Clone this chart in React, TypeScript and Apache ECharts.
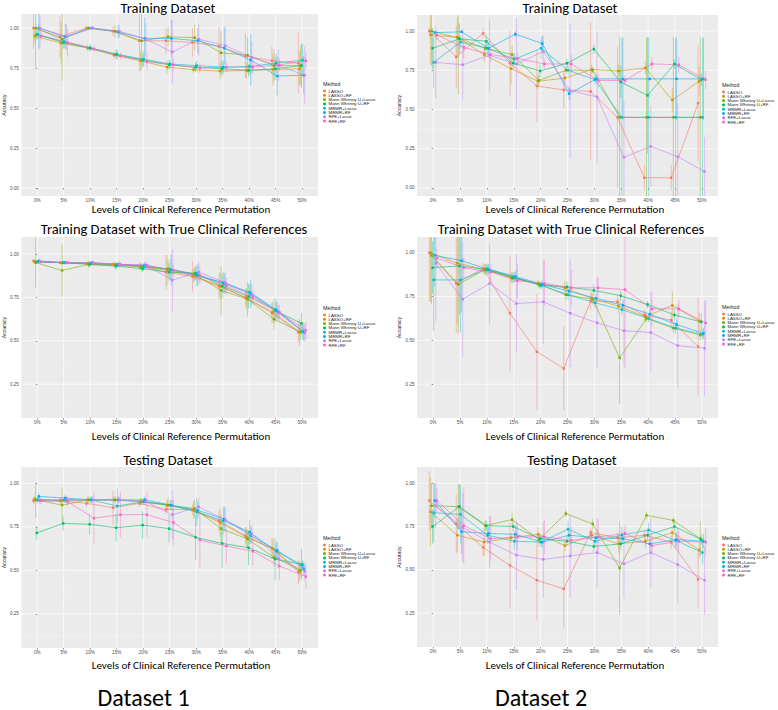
import React, { useEffect, useRef } from "react";
import * as echarts from "echarts";

const categories = ["0%", "5%", "10%", "15%", "20%", "25%", "30%", "35%", "40%", "45%", "50%"];
const methods = ["LASSO", "LASSO+RF", "Mann Whitney U+Lasso", "Mann Whitney U+RF", "MRMR+Lasso", "MRMR+RF", "RFE+Lasso", "RFE+RF"];
const colors = ["#F8766D", "#CD9600", "#7CAE00", "#00BE67", "#00BFC4", "#00A9FF", "#C77CFF", "#FF61CC"];
const yTicks = [0, 0.25, 0.5, 0.75, 1];
const panelTitles = [
  "Training Dataset",
  "Training Dataset",
  "Training Dataset with True Clinical References",
  "Training Dataset with True Clinical References",
  "Testing Dataset",
  "Testing Dataset",
];
const xTitle = "Levels of Clinical Reference Permutation";
const datasetLabels = ["Dataset 1", "Dataset 2"];

// Dataset 1 - Training
const train1Mean = [
  [1.0, 0.945, 1.0, 0.98, 0.92, 0.92, 0.91, 0.885, 0.825, 0.795, 0.78],
  [0.95, 0.905, 0.875, 0.83, 0.795, 0.755, 0.74, 0.73, 0.735, 0.74, 0.745],
  [1.0, 0.93, 1.0, 0.98, 0.92, 0.945, 0.94, 0.845, 0.83, 0.765, 0.765],
  [0.96, 0.91, 0.875, 0.835, 0.8, 0.77, 0.755, 0.745, 0.735, 0.745, 0.765],
  [0.96, 0.915, 0.875, 0.835, 0.805, 0.775, 0.765, 0.755, 0.76, 0.78, 0.8],
  [1.0, 0.945, 1.0, 0.975, 0.935, 0.935, 0.92, 0.875, 0.8, 0.7, 0.705],
  [1.0, 0.945, 1.0, 0.98, 0.93, 0.85, 0.93, 0.89, 0.815, 0.765, 0.705],
  [0.95, 0.91, 0.87, 0.825, 0.79, 0.77, 0.75, 0.755, 0.755, 0.77, 0.795],
];
const train1Sd = [
  [0.13, 0.13, 0.01, 0.03, 0.19, 0.08, 0.09, 0.12, 0.14, 0.09, 0.19],
  [0.04, 0.13, 0.02, 0.02, 0.06, 0.04, 0.02, 0.05, 0.05, 0.1, 0.11],
  [0.25, 0.26, 0.01, 0.04, 0.18, 0.06, 0.08, 0.14, 0.11, 0.1, 0.12],
  [0.03, 0.04, 0.02, 0.03, 0.04, 0.03, 0.03, 0.05, 0.04, 0.07, 0.14],
  [0.03, 0.04, 0.02, 0.03, 0.05, 0.03, 0.03, 0.04, 0.05, 0.06, 0.1],
  [0.13, 0.08, 0.01, 0.04, 0.13, 0.12, 0.08, 0.13, 0.16, 0.12, 0.12],
  [0.13, 0.08, 0.01, 0.04, 0.1, 0.2, 0.1, 0.12, 0.1, 0.1, 0.18],
  [0.03, 0.09, 0.02, 0.02, 0.05, 0.04, 0.03, 0.03, 0.04, 0.04, 0.05],
];

// Dataset 2 - Training
const train2Mean = [
  [1.0, 0.835, 0.985, 0.795, 0.65, 0.625, 0.615, 0.45, 0.065, 0.065, 0.54],
  [0.975, 0.96, 0.85, 0.76, 0.68, 0.7, 0.755, 0.745, 0.765, 0.56, 0.68],
  [1.0, 0.955, 0.89, 0.85, 0.685, 0.75, 0.75, 0.45, 0.45, 0.45, 0.45],
  [0.89, 0.95, 0.935, 0.795, 0.745, 0.795, 0.885, 0.675, 0.59, 0.79, 0.69],
  [0.8, 0.93, 0.89, 0.82, 0.89, 0.75, 0.69, 0.45, 0.45, 0.45, 0.45],
  [0.99, 0.995, 0.89, 0.98, 0.92, 0.6, 0.695, 0.695, 0.695, 0.695, 0.695],
  [0.8, 0.785, 0.845, 0.79, 0.87, 0.62, 0.58, 0.195, 0.265, 0.2, 0.105],
  [0.975, 0.895, 0.85, 0.825, 0.79, 0.79, 0.685, 0.685, 0.79, 0.785, 0.69],
];
const train2Sd = [
  [0.02, 0.2, 0.03, 0.21, 0.23, 0.12, 0.44, 0.45, 0.08, 0.08, 0.37],
  [0.18, 0.13, 0.05, 0.1, 0.05, 0.03, 0.03, 0.04, 0.04, 0.08, 0.09],
  [0.22, 0.36, 0.05, 0.06, 0.03, 0.02, 0.02, 0.51, 0.51, 0.51, 0.51],
  [0.13, 0.1, 0.04, 0.04, 0.04, 0.03, 0.03, 0.1, 0.37, 0.03, 0.04],
  [0.16, 0.04, 0.04, 0.04, 0.07, 0.03, 0.03, 0.51, 0.51, 0.51, 0.51],
  [0.01, 0.01, 0.04, 0.02, 0.05, 0.04, 0.02, 0.26, 0.01, 0.26, 0.26],
  [0.23, 0.23, 0.23, 0.29, 0.1, 0.43, 0.42, 0.36, 0.26, 0.34, 0.22],
  [0.03, 0.07, 0.05, 0.04, 0.03, 0.06, 0.04, 0.03, 0.04, 0.05, 0.06],
];

// Dataset 1 - Training with true clinical references
const trueRef1Mean = [
  [0.96, 0.95, 0.945, 0.94, 0.93, 0.895, 0.87, 0.815, 0.75, 0.66, 0.55],
  [0.955, 0.95, 0.945, 0.94, 0.93, 0.905, 0.875, 0.815, 0.745, 0.665, 0.55],
  [0.95, 0.905, 0.94, 0.935, 0.925, 0.915, 0.885, 0.79, 0.74, 0.625, 0.55],
  [0.955, 0.95, 0.94, 0.93, 0.915, 0.895, 0.89, 0.815, 0.755, 0.675, 0.6],
  [0.955, 0.95, 0.945, 0.94, 0.93, 0.91, 0.875, 0.835, 0.78, 0.68, 0.555],
  [0.96, 0.95, 0.95, 0.94, 0.935, 0.91, 0.88, 0.83, 0.77, 0.67, 0.55],
  [0.955, 0.95, 0.95, 0.94, 0.935, 0.85, 0.895, 0.835, 0.765, 0.66, 0.545],
  [0.955, 0.95, 0.945, 0.94, 0.935, 0.905, 0.875, 0.815, 0.75, 0.665, 0.56],
];
const trueRef1Sd = [
  [0.01, 0.01, 0.01, 0.01, 0.02, 0.1, 0.09, 0.07, 0.05, 0.06, 0.06],
  [0.01, 0.01, 0.01, 0.01, 0.02, 0.09, 0.04, 0.08, 0.06, 0.06, 0.08],
  [0.15, 0.15, 0.02, 0.02, 0.02, 0.05, 0.04, 0.14, 0.1, 0.06, 0.05],
  [0.01, 0.01, 0.02, 0.02, 0.02, 0.05, 0.04, 0.07, 0.07, 0.07, 0.06],
  [0.01, 0.01, 0.01, 0.01, 0.02, 0.06, 0.06, 0.06, 0.05, 0.05, 0.05],
  [0.01, 0.01, 0.01, 0.01, 0.02, 0.09, 0.06, 0.06, 0.08, 0.05, 0.05],
  [0.01, 0.01, 0.01, 0.02, 0.02, 0.18, 0.06, 0.06, 0.06, 0.05, 0.05],
  [0.01, 0.01, 0.01, 0.01, 0.02, 0.04, 0.05, 0.05, 0.04, 0.04, 0.05],
];

// Dataset 2 - Training with true clinical references
const trueRef2Mean = [
  [1.0, 0.825, 0.91, 0.655, 0.435, 0.34, 0.725, 0.72, 0.645, 0.615, 0.465],
  [1.0, 0.94, 0.905, 0.86, 0.825, 0.8, 0.74, 0.695, 0.635, 0.7, 0.61],
  [0.985, 0.82, 0.905, 0.855, 0.82, 0.76, 0.735, 0.4, 0.625, 0.57, 0.53],
  [0.915, 0.925, 0.905, 0.86, 0.815, 0.805, 0.785, 0.755, 0.705, 0.645, 0.605],
  [0.845, 0.845, 0.91, 0.86, 0.815, 0.76, 0.715, 0.675, 0.625, 0.57, 0.535],
  [0.985, 0.955, 0.905, 0.865, 0.82, 0.78, 0.74, 0.7, 0.65, 0.59, 0.54],
  [0.94, 0.735, 0.825, 0.71, 0.72, 0.655, 0.6, 0.555, 0.545, 0.47, 0.455],
  [0.97, 0.915, 0.89, 0.84, 0.825, 0.8, 0.8, 0.79, 0.68, 0.68, 0.6],
];
const trueRef2Sd = [
  [0.28, 0.28, 0.03, 0.33, 0.33, 0.24, 0.05, 0.04, 0.03, 0.05, 0.28],
  [0.28, 0.35, 0.03, 0.03, 0.02, 0.04, 0.03, 0.04, 0.03, 0.08, 0.05],
  [0.28, 0.28, 0.03, 0.03, 0.02, 0.03, 0.03, 0.26, 0.02, 0.03, 0.03],
  [0.15, 0.28, 0.03, 0.03, 0.02, 0.03, 0.03, 0.03, 0.02, 0.03, 0.05],
  [0.29, 0.3, 0.03, 0.03, 0.02, 0.03, 0.03, 0.03, 0.02, 0.03, 0.03],
  [0.18, 0.29, 0.03, 0.03, 0.02, 0.03, 0.03, 0.03, 0.03, 0.03, 0.03],
  [0.33, 0.33, 0.23, 0.28, 0.24, 0.31, 0.26, 0.2, 0.23, 0.24, 0.27],
  [0.05, 0.06, 0.05, 0.1, 0.13, 0.1, 0.06, 0.45, 0.1, 0.05, 0.13],
];

// Dataset 1 - Testing
const test1Mean = [
  [0.9, 0.9, 0.885, 0.86, 0.885, 0.85, 0.85, 0.785, 0.7, 0.625, 0.49],
  [0.91, 0.9, 0.905, 0.905, 0.895, 0.875, 0.845, 0.775, 0.69, 0.625, 0.495],
  [0.905, 0.875, 0.905, 0.905, 0.895, 0.875, 0.855, 0.74, 0.68, 0.575, 0.5],
  [0.715, 0.77, 0.765, 0.745, 0.76, 0.74, 0.69, 0.655, 0.63, 0.565, 0.535],
  [0.905, 0.905, 0.905, 0.87, 0.895, 0.875, 0.835, 0.785, 0.72, 0.61, 0.53],
  [0.925, 0.915, 0.905, 0.905, 0.905, 0.875, 0.845, 0.795, 0.7, 0.615, 0.51],
  [0.9, 0.905, 0.905, 0.905, 0.895, 0.82, 0.865, 0.79, 0.71, 0.57, 0.495],
  [0.9, 0.895, 0.8, 0.82, 0.82, 0.775, 0.675, 0.64, 0.61, 0.525, 0.465],
];
const test1Sd = [
  [0.02, 0.02, 0.02, 0.1, 0.02, 0.03, 0.03, 0.06, 0.05, 0.06, 0.07],
  [0.02, 0.02, 0.02, 0.02, 0.02, 0.03, 0.05, 0.08, 0.06, 0.06, 0.06],
  [0.1, 0.1, 0.02, 0.02, 0.02, 0.04, 0.05, 0.08, 0.05, 0.05, 0.04],
  [0.04, 0.04, 0.06, 0.08, 0.08, 0.08, 0.13, 0.14, 0.1, 0.12, 0.09],
  [0.02, 0.02, 0.02, 0.1, 0.02, 0.03, 0.08, 0.08, 0.07, 0.05, 0.03],
  [0.02, 0.02, 0.02, 0.02, 0.02, 0.03, 0.05, 0.07, 0.05, 0.05, 0.04],
  [0.02, 0.02, 0.02, 0.02, 0.02, 0.14, 0.05, 0.07, 0.05, 0.06, 0.05],
  [0.02, 0.03, 0.15, 0.13, 0.13, 0.13, 0.16, 0.1, 0.08, 0.08, 0.07],
];

// Dataset 2 - Testing
const test2Mean = [
  [0.9, 0.765, 0.63, 0.525, 0.44, 0.39, 0.715, 0.685, 0.7, 0.66, 0.445],
  [0.835, 0.7, 0.66, 0.685, 0.705, 0.64, 0.7, 0.65, 0.665, 0.715, 0.615],
  [0.87, 0.865, 0.755, 0.79, 0.675, 0.825, 0.765, 0.51, 0.815, 0.785, 0.68],
  [0.75, 0.865, 0.755, 0.75, 0.68, 0.665, 0.635, 0.65, 0.7, 0.75, 0.675],
  [0.83, 0.82, 0.7, 0.665, 0.66, 0.735, 0.665, 0.7, 0.73, 0.67, 0.6],
  [0.9, 0.72, 0.71, 0.705, 0.66, 0.7, 0.685, 0.68, 0.65, 0.675, 0.665],
  [0.87, 0.745, 0.66, 0.585, 0.56, 0.58, 0.6, 0.535, 0.6, 0.53, 0.44],
  [0.9, 0.755, 0.68, 0.69, 0.69, 0.67, 0.69, 0.71, 0.64, 0.665, 0.66],
];
const test2Sd = [
  [0.17, 0.17, 0.05, 0.25, 0.23, 0.23, 0.03, 0.03, 0.03, 0.04, 0.17],
  [0.2, 0.1, 0.08, 0.03, 0.04, 0.03, 0.03, 0.05, 0.04, 0.03, 0.05],
  [0.13, 0.13, 0.03, 0.04, 0.04, 0.02, 0.03, 0.27, 0.02, 0.02, 0.1],
  [0.1, 0.13, 0.03, 0.03, 0.03, 0.03, 0.03, 0.03, 0.03, 0.03, 0.03],
  [0.17, 0.17, 0.05, 0.05, 0.03, 0.05, 0.03, 0.05, 0.04, 0.05, 0.07],
  [0.1, 0.13, 0.04, 0.05, 0.03, 0.03, 0.03, 0.03, 0.04, 0.04, 0.04],
  [0.13, 0.2, 0.15, 0.2, 0.22, 0.24, 0.2, 0.2, 0.2, 0.22, 0.2],
  [0.07, 0.22, 0.13, 0.08, 0.1, 0.08, 0.1, 0.05, 0.05, 0.06, 0.08],
];

const panelMeans = [train1Mean, train2Mean, trueRef1Mean, trueRef2Mean, test1Mean, test2Mean];
const panelSds = [train1Sd, train2Sd, trueRef1Sd, trueRef2Sd, test1Sd, test2Sd];

// layout (pixels) for each panel
const layouts = [
  { left: 17, top: 14, width: 301, height: 182, yMin: -0.05, yMax: 1.0875, cx: 168, titleY: 0.5, titleVA: "top", xTitleY: 209.5, legX: 323, legY: 84 },
  { left: 417, top: 15, width: 301, height: 181, yMin: -0.051, yMax: 1.102, cx: 570, titleY: 0.5, titleVA: "top", xTitleY: 209.5, legX: 722, legY: 85 },
  { left: 17, top: 237, width: 301, height: 181, yMin: 0.055, yMax: 1.098, cx: 174, titleY: 228.5, titleVA: "middle", xTitleY: 436.5, legX: 323, legY: 308 },
  { left: 417, top: 237, width: 301, height: 181, yMin: 0.057, yMax: 1.09, cx: 571, titleY: 228.5, titleVA: "middle", xTitleY: 436.5, legX: 722, legY: 307 },
  { left: 17, top: 467, width: 301, height: 181, yMin: 0.054, yMax: 1.094, cx: 168, titleY: 460, titleVA: "middle", xTitleY: 665, legX: 323, legY: 538 },
  { left: 417, top: 467, width: 301, height: 180, yMin: 0.054, yMax: 1.094, cx: 572, titleY: 460, titleVA: "middle", xTitleY: 665, legX: 722, legY: 538 },
];

const TITLE_FONT = "Carlito, Lato, 'Open Sans', sans-serif";
const SMALL_FONT = "'Liberation Sans', Arial, Helvetica, sans-serif";
const DODGE = 0.04;

export default function App() {
  const ref = useRef<HTMLDivElement>(null);

  useEffect(() => {
    document.body.style.margin = "0";
    if (!ref.current) return;
    const chart = echarts.init(ref.current, null, { renderer: "svg" });

    const grid: any[] = [];
    const xAxis: any[] = [];
    const yAxis: any[] = [];
    const series: any[] = [];
    const legend: any[] = [];
    const graphic: any[] = [];

    layouts.forEach((L, p) => {
      grid.push({
        left: L.left,
        top: L.top,
        width: L.width,
        height: L.height,
        show: true,
        backgroundColor: "#EBEBEB",
        borderWidth: 0,
      });
      const xVals = categories.map((_, i) => i);
      xAxis.push({
        type: "value",
        gridIndex: p,
        min: -0.6,
        max: 10.6,
        axisLine: { show: false },
        axisTick: { show: true, customValues: xVals, length: 1.5, lineStyle: { color: "#333", width: 0.5 } },
        axisLabel: {
          customValues: xVals,
          formatter: (v: number) => categories[Math.round(v)] ?? "",
          fontSize: 4.6,
          color: "#4D4D4D",
          fontFamily: SMALL_FONT,
          margin: 2,
        },
        splitLine: { show: false },
      });
      const yVals = yTicks.filter((v) => v >= L.yMin && v <= L.yMax);
      yAxis.push({
        type: "value",
        gridIndex: p,
        min: L.yMin,
        max: L.yMax,
        name: "Accuracy",
        nameLocation: "middle",
        nameGap: p % 2 === 0 ? 11 : 13,
        nameRotate: 90,
        nameTextStyle: { fontSize: 5.2, color: "#222", fontFamily: SMALL_FONT },
        axisLine: { show: false },
        axisTick: { show: true, customValues: yVals, length: 1.5, lineStyle: { color: "#333", width: 0.5 } },
        axisLabel: {
          customValues: yVals,
          formatter: (v: number) => v.toFixed(2),
          fontSize: 4.6,
          color: "#4D4D4D",
          fontFamily: SMALL_FONT,
          margin: 2.5,
        },
        splitLine: { show: false },
      });

      // panel gridlines (ggplot style)
      series.push({
        type: "custom",
        name: "grid" + p,
        xAxisIndex: p,
        yAxisIndex: p,
        silent: true,
        z: 0,
        data: [[0, L.yMin]],
        renderItem: (params: any, api: any) => {
          const cs = params.coordSys;
          const children: any[] = [];
          const minors = [0.125, 0.375, 0.625, 0.875];
          minors.forEach((v) => {
            if (v > L.yMin && v < L.yMax) {
              const pt = api.coord([0, v]);
              children.push({ type: "line", shape: { x1: cs.x, y1: pt[1], x2: cs.x + cs.width, y2: pt[1] }, style: { stroke: "#F6F6F6", lineWidth: 0.4 } });
            }
          });
          yTicks.forEach((v) => {
            if (v > L.yMin && v < L.yMax) {
              const pt = api.coord([0, v]);
              children.push({ type: "line", shape: { x1: cs.x, y1: pt[1], x2: cs.x + cs.width, y2: pt[1] }, style: { stroke: "#FFFFFF", lineWidth: 0.7 } });
            }
          });
          categories.forEach((_, i) => {
            const pt = api.coord([i, L.yMin]);
            children.push({ type: "line", shape: { x1: pt[0], y1: cs.y, x2: pt[0], y2: cs.y + cs.height }, style: { stroke: "#FFFFFF", lineWidth: 0.7 } });
          });
          return { type: "group", children };
        },
      });

      const means = panelMeans[p];
      const sds = panelSds[p];
      methods.forEach((m, k) => {
        const off = (k - 3.5) * DODGE;
        series.push({
          type: "line",
          name: m,
          xAxisIndex: p,
          yAxisIndex: p,
          z: 3,
          symbol: "rect",
          symbolSize: 2.4,
          color: colors[k],
          itemStyle: { color: colors[k] },
          lineStyle: { width: 0.6, color: colors[k] },
          data: means[k].map((v, i) => [i + off, v]),
        });
        series.push({
          type: "custom",
          name: m,
          xAxisIndex: p,
          yAxisIndex: p,
          z: 2,
          itemStyle: { color: colors[k] },
          encode: { x: 0, y: [1, 2] },
          data: means[k].map((v, i) => [i + off, v - sds[k][i], v + sds[k][i]]),
          renderItem: (params: any, api: any) => {
            const cs = params.coordSys;
            const a = api.coord([api.value(0), api.value(1)]);
            const b = api.coord([api.value(0), api.value(2)]);
            const clampY = (y: number) => Math.max(cs.y, Math.min(cs.y + cs.height, y));
            return {
              type: "line",
              shape: { x1: a[0], y1: clampY(a[1]), x2: b[0], y2: clampY(b[1]) },
              style: { stroke: colors[k], lineWidth: 0.9, opacity: 0.45 },
            };
          },
        });
      });

      legend.push({
        orient: "vertical",
        left: L.legX,
        top: L.legY + 5,
        padding: 0,
        itemWidth: 4,
        itemHeight: 3,
        itemGap: 0.3,
        icon: "circle",
        selectedMode: false,
        data: methods.map((m, k) => ({ name: m, itemStyle: { color: colors[k] } })),
        textStyle: { fontSize: 4.4, color: "#222", fontFamily: SMALL_FONT, padding: [0, 0, 0, -3] },
      });

      graphic.push({
        type: "text",
        x: L.legX,
        y: L.legY,
        style: { text: "Method", fontSize: 5.2, fill: "#222", fontFamily: SMALL_FONT, textVerticalAlign: "middle" },
      });
      graphic.push({
        type: "text",
        x: L.cx,
        y: L.titleY,
        style: {
          text: panelTitles[p],
          fontSize: 14.5,
          lineHeight: 14.5,
          fill: "#000",
          fontFamily: TITLE_FONT,
          textAlign: "center",
          textVerticalAlign: L.titleVA,
        },
      });
      graphic.push({
        type: "text",
        x: L.left + (p % 2 === 0 ? 164 : 158),
        y: L.xTitleY,
        style: { text: xTitle, fontSize: 11, fill: "#000", fontFamily: TITLE_FONT, textAlign: "center", textVerticalAlign: "middle" },
      });
    });

    graphic.push({
      type: "text",
      x: 143.5,
      y: 697,
      style: { text: datasetLabels[0], fontSize: 24, fill: "#000", fontFamily: TITLE_FONT, textAlign: "center", textVerticalAlign: "middle" },
    });
    graphic.push({
      type: "text",
      x: 541,
      y: 697,
      style: { text: datasetLabels[1], fontSize: 24, fill: "#000", fontFamily: TITLE_FONT, textAlign: "center", textVerticalAlign: "middle" },
    });

    chart.setOption({
      animation: false,
      backgroundColor: "#FFFFFF",
      grid,
      xAxis,
      yAxis,
      legend,
      graphic,
      series,
    });

    return () => {
      chart.dispose();
    };
  }, []);

  return <div ref={ref} style={{ width: 778, height: 710 }} />;
}
